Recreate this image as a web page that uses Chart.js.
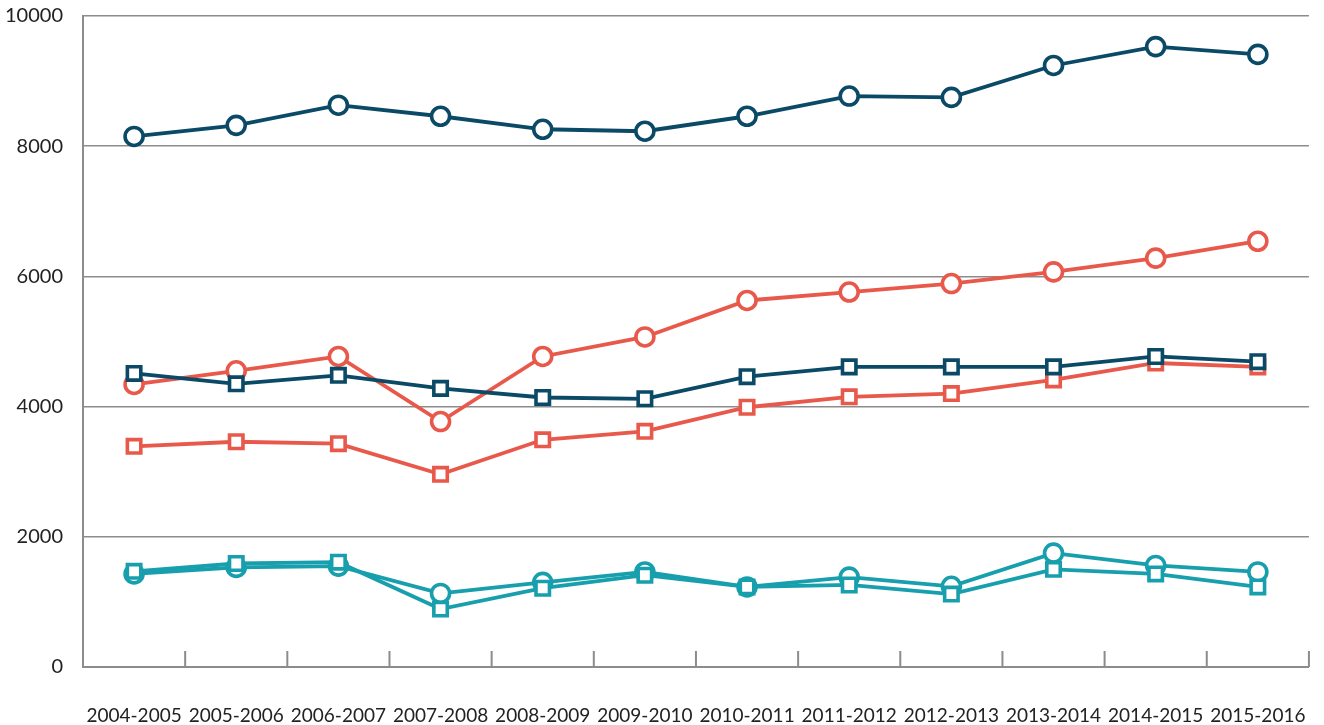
<!DOCTYPE html>
<html>
<head>
<meta charset="utf-8">
<script src="https://cdn.jsdelivr.net/npm/chart.js@4"></script>
<style>
html,body{margin:0;padding:0;background:#fff;overflow:hidden;}
#wrap{width:1324px;height:725px;position:relative;overflow:hidden;}
#c{position:absolute;left:0;top:-16px;}
</style>
</head>
<body>
<div id="wrap"><canvas id="c" width="1343" height="741"></canvas></div>
<script>
const categories = ["2004-2005","2005-2006","2006-2007","2007-2008","2008-2009","2009-2010","2010-2011","2011-2012","2012-2013","2013-2014","2014-2015","2015-2016"];
const navyCircle = [8150,8320,8630,8460,8260,8230,8460,8770,8750,9240,9530,9410];
const navySquare = [4510,4350,4480,4280,4140,4120,4460,4610,4610,4610,4770,4690];
const redCircle  = [4340,4550,4770,3770,4770,5070,5630,5760,5890,6070,6280,6540];
const redSquare  = [3390,3460,3430,2960,3490,3620,3990,4150,4200,4410,4670,4610];
const tealCircle = [1430,1530,1550,1130,1300,1460,1230,1380,1240,1750,1560,1460];
const tealSquare = [1470,1590,1610,890,1210,1410,1230,1260,1120,1500,1430,1230];
const yTicks = [0,2000,4000,6000,8000,10000];

const NAVY = "#0b4a66", RED = "#e8594b", TEAL = "#179fae";

function ds(data, color, style, order){
  return {
    data, borderColor: color, backgroundColor: "#fff",
    borderWidth: 3.8, pointStyle: style,
    pointRadius: style === "rect" ? 9.5 : 9,
    pointBorderWidth: 3.6, pointBackgroundColor: "#fff", pointBorderColor: color,
    tension: 0, order
  };
}

const tickPlugin = {
  id: "boundaryTicks",
  afterDatasetsDraw(chart){
    const xs = chart.scales.x, ctx = chart.ctx, ca = chart.chartArea;
    ctx.save();
    ctx.strokeStyle = "#8c8c8c"; ctx.lineWidth = 2;
    ctx.beginPath();
    for (let i = 0; i < categories.length; i++){
      const x = i < categories.length - 1 ? (xs.getPixelForValue(i) + xs.getPixelForValue(i+1))/2 : ca.right;
      ctx.moveTo(x, ca.bottom); ctx.lineTo(x, ca.bottom - 16);
    }
    ctx.stroke();
    ctx.restore();
  }
};

new Chart(document.getElementById("c"), {
  type: "line",
  data: {
    labels: categories,
    datasets: [
      ds(tealSquare, TEAL, "rect", 1),
      ds(tealCircle, TEAL, "circle", 2),
      ds(navySquare, NAVY, "rect", 3),
      ds(navyCircle, NAVY, "circle", 4),
      ds(redSquare, RED, "rect", 5),
      ds(redCircle, RED, "circle", 6)
    ]
  },
  options: {
    responsive: false, animation: false,
    layout: { padding: { top: 0, right: 0, left: 0, bottom: 0 } },
    plugins: { legend: { display: false }, tooltip: { enabled: false } },
    scales: {
      x: {
        offset: true,
        grid: { display: false, drawTicks: false },
        border: { display: true, color: "#8c8c8c", width: 2 },
        ticks: { color: "#222", font: { family: "Lato", size: 19 }, padding: 37, maxRotation: 0, autoSkip: false },
        afterFit(s){ s.height = 58; }
      },
      y: {
        min: 0, max: 10000,
        afterBuildTicks(s){ s.ticks = yTicks.map(v => ({ value: v })); },
        grid: { color: "#8c8c8c", lineWidth: 1.5, drawTicks: false },
        border: { display: true, color: "#8c8c8c", width: 2 },
        ticks: { color: "#222", font: { family: "Lato", size: 20 }, padding: 20, callback: v => String(v) },
        afterFit(s){ s.width = 83; }
      }
    }
  },
  plugins: [tickPlugin]
});
</script>
</body>
</html>
